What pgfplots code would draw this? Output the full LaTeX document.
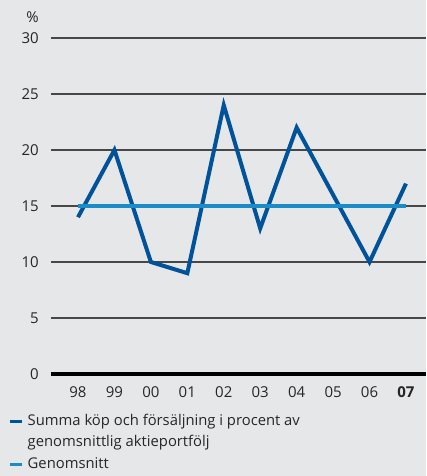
\documentclass[border=0pt]{standalone}
\usepackage{fontspec}
\setmainfont{Open Sans}
\usepackage{pgfplots}
\pgfplotsset{compat=1.18}
\definecolor{bg}{RGB}{230,231,232}
\definecolor{dblue}{RGB}{0,82,155}
\definecolor{lblue}{RGB}{28,140,200}
\begin{document}
\begin{tikzpicture}[x=1pt,y=1pt]
\fill[bg] (-51.5,-102) rectangle (374.5,374);
\begin{axis}[
  at={(0,0)}, anchor=south west,
  scale only axis, width=374.5pt, height=336pt,
  xmin=-0.727, xmax=9.55, ymin=0, ymax=30,
  axis line style={draw=none},
  major tick length=0pt,
  xtick={0,...,9},
  xticklabels={98,99,00,01,02,03,04,05,06,\textbf{07}},
  ytick={5,10,...,30},
  extra y ticks={0},
  extra y tick style={grid style={black, line width=4pt}},
  ymajorgrids,
  grid style={black!72, line width=1.1pt},
  /pgf/number format/assume math mode=true,
  ticklabel style={font=\fontsize{15}{18}\selectfont, text=black!85},
  xticklabel style={inner sep=0pt, yshift=-12pt},
  yticklabel style={inner sep=0pt, xshift=-12.5pt},
  clip=false,
  legend cell align=left,
  legend style={at={(0,0)}, anchor=north west, xshift=-43.5pt, yshift=-40pt,
    draw=none, fill=none, inner sep=0pt, column sep=4pt, row sep=6.5pt,
    font=\fontsize{14.8}{18}\selectfont, text=black!85,
    nodes={inner sep=0pt, text height=11pt, text depth=4pt}},
  legend image code/.code={\draw[#1, line width=3.5pt] (0pt,0pt) -- (12pt,0pt);},
]
\addplot[dblue, line width=4pt, line join=miter] coordinates {
 (0,14) (1,20) (2,10) (3,9) (4,24) (5,13) (6,22) (7,16) (8,10) (9,17)};
\addlegendentry{Summa köp och försäljning i procent av}
\addlegendimage{bg, opacity=0}
\addlegendentry{genomsnittlig aktieportfölj}
\addplot[lblue, line width=3.5pt] coordinates {(0,15) (9,15)};
\addlegendentry{Genomsnitt}
\node[font=\fontsize{15}{18}\selectfont, text=black!85] at ([xshift=-19pt,yshift=21pt]rel axis cs:0,1) {\%};
\end{axis}
\pgfresetboundingbox
\path (-51.5,-102) rectangle (374.5,374);
\end{tikzpicture}
\end{document}
